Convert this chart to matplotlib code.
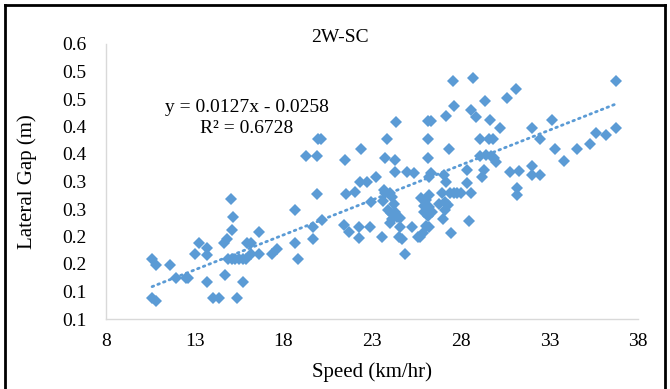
import matplotlib
matplotlib.use("Agg")
import matplotlib.pyplot as plt
from matplotlib.lines import Line2D
import numpy as np

# speed (km/hr) and lateral gap (m)
speed = [
    10.6, 10.8, 10.6, 10.8, 11.6, 11.95, 12.5, 12.65, 13.0, 13.25, 13.7, 13.7, 13.7,
    14.05, 14.35, 14.7, 14.65, 14.85, 15.05, 15.15, 15.1, 14.9, 15.1, 15.3, 15.5,
    15.7, 15.9, 15.4, 15.75, 15.95, 16.2, 16.2, 16.6, 16.6, 17.35, 17.65,
    18.65, 18.65, 18.85, 19.25, 19.9, 19.95, 20.1, 19.9, 19.7, 19.7, 20.2,
    21.45, 21.55, 22.05, 21.4, 21.7, 22.25, 22.25, 22.4, 22.35, 22.7, 22.95, 22.9,
    23.25, 23.55, 23.85, 23.75, 24.3, 24.35, 24.3,
    23.65, 23.75, 24.0, 23.6, 24.15, 24.25, 23.9, 24.05, 24.3, 24.4, 24.15, 24.6,
    24.0, 24.6, 24.5, 24.7, 24.85, 24.95, 25.35, 25.25, 25.6,
    25.75, 26.05, 26.2, 25.95, 26.2, 25.95, 26.15, 26.4, 26.05, 26.2, 25.9, 25.7,
    26.15, 26.35, 26.15, 26.15, 26.2, 26.3, 26.75, 27.1, 27.0, 27.05, 27.15,
    26.95, 27.4, 27.2, 27.6, 27.55, 27.35, 27.45, 27.1, 27.3,
    28.7, 28.6, 28.85, 29.35, 30.6, 31.1, 29.65, 30.2, 29.1, 29.6, 29.85,
    29.1, 29.45, 29.7, 29.9, 30.0, 28.35, 29.3, 29.2, 28.35,
    27.6, 27.8, 28.0, 28.6, 28.45, 30.8, 31.3, 31.15, 31.15,
    32.0, 32.0, 32.0, 32.45, 32.5, 33.15, 33.3, 33.8, 34.55, 35.3, 35.65, 36.2,
    36.75, 36.75,
]
gap = [
    0.160, 0.148, 0.088, 0.083, 0.148, 0.124, 0.124, 0.124, 0.168, 0.189, 0.180, 0.166, 0.118,
    0.089, 0.089, 0.130, 0.188, 0.195, 0.269, 0.236, 0.212, 0.160, 0.160, 0.160, 0.160,
    0.160, 0.160, 0.089, 0.118, 0.188, 0.188, 0.168, 0.168, 0.209, 0.168, 0.178,
    0.248, 0.189, 0.160, 0.346, 0.346, 0.377, 0.377, 0.277, 0.218, 0.195, 0.230,
    0.339, 0.277, 0.280, 0.221, 0.208, 0.218, 0.198, 0.359, 0.299, 0.299, 0.263, 0.218,
    0.308, 0.200, 0.377, 0.342, 0.339, 0.408, 0.318,
    0.285, 0.279, 0.279, 0.265, 0.271, 0.260, 0.248, 0.242, 0.245, 0.236, 0.231, 0.233,
    0.225, 0.218, 0.200, 0.195, 0.168, 0.318, 0.315, 0.218, 0.200,
    0.270, 0.267, 0.276, 0.256, 0.253, 0.244, 0.238, 0.244, 0.220, 0.217, 0.206, 0.200,
    0.410, 0.410, 0.377, 0.342, 0.309, 0.315, 0.260, 0.248, 0.232, 0.311, 0.299,
    0.279, 0.279, 0.420, 0.438, 0.483, 0.359, 0.206, 0.263, 0.257,
    0.488, 0.430, 0.418, 0.446, 0.451, 0.469, 0.412, 0.398, 0.377, 0.377, 0.377,
    0.346, 0.348, 0.346, 0.342, 0.336, 0.321, 0.321, 0.309, 0.297,
    0.279, 0.279, 0.279, 0.279, 0.228, 0.318, 0.319, 0.289, 0.275,
    0.398, 0.329, 0.312, 0.312, 0.377, 0.412, 0.359, 0.337, 0.359, 0.369, 0.388, 0.385,
    0.483, 0.398,
]

# trendline as printed on the chart
slope = 0.0127
intercept = -0.0258

x_ticks = [8, 13, 18, 23, 28, 33, 38]
y_ticks = [0.05, 0.10, 0.15, 0.20, 0.25, 0.30, 0.35, 0.40, 0.45, 0.50, 0.55]
y_tick_labels = ["0.1", "0.1", "0.2", "0.2", "0.3", "0.3", "0.4", "0.4", "0.5", "0.5", "0.6"]

blue = "#5b9bd5"
plt.rcParams["font.family"] = ["Liberation Serif", "DejaVu Serif"]

fig = plt.figure(figsize=(6.7, 3.89), dpi=100)
ax = fig.add_axes([106 / 670, 1 - 319 / 389, 532 / 670, 275 / 389])

ax.plot(speed, gap, linestyle="none", marker="D", markersize=6.3,
        color=blue, markeredgewidth=0)

xs = np.array([min(speed), max(speed)])
ax.plot(xs, slope * xs + intercept, color=blue, linewidth=2,
        linestyle=(0, (0.6, 1.6)), dash_capstyle="round")

ax.set_xlim(8, 38)
ax.set_ylim(0.05, 0.55)
ax.set_xticks(x_ticks)
ax.set_yticks(y_ticks)
ax.set_yticklabels(y_tick_labels)
ax.tick_params(length=0, labelsize=14)
ax.tick_params(axis="y", pad=14)
ax.tick_params(axis="x", pad=10)

for s in ["top", "right"]:
    ax.spines[s].set_visible(False)
for s in ["left", "bottom"]:
    ax.spines[s].set_color("#d9d9d9")
    ax.spines[s].set_linewidth(1)

ax.set_xlabel("Speed (km/hr)", fontsize=15, labelpad=9)
ax.set_ylabel("Lateral Gap (m)", fontsize=15, labelpad=18)

fig.text(0.508, 1 - 37 / 389, "2W-SC", ha="center", va="center", fontsize=14)
ax.text(247 / 670, 1 - 118 / 389, "y = 0.0127x - 0.0258\nR\u00b2 = 0.6728",
        transform=fig.transFigure, ha="center", va="center", fontsize=14,
        linespacing=1.25, multialignment="center")

# black frame around the chart area
for xd, yd in [([5, 5], [-5, 384]), ([5, 665], [384, 384]), ([665, 665], [-5, 384])]:
    fig.add_artist(Line2D([v / 670 for v in xd], [v / 389 for v in yd],
                          color="black", linewidth=2, transform=fig.transFigure))

fig.savefig("out.png", dpi=100)
